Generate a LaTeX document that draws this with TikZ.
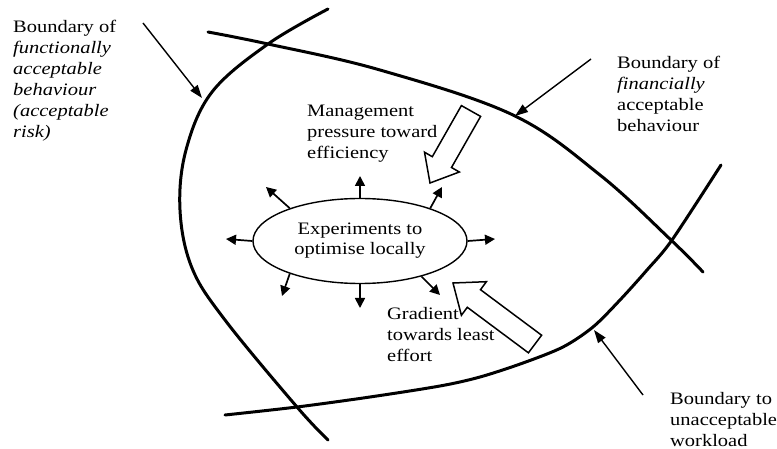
\documentclass[tikz,border=0pt]{standalone}
\usepackage{fontspec}
\setmainfont{Liberation Serif}[FakeStretch=1.17]
\usetikzlibrary{arrows.meta,shapes.geometric}

\begin{document}
\begin{tikzpicture}[x=1pt,y=-1pt,
  boundary/.style={line width=3pt, line cap=round},
  pointer/.style={line width=1.4pt, -{Triangle[length=13pt,width=9pt]}},
  probe/.style={line width=1.7pt, -{Triangle[length=10pt,width=10pt]}},
  push/.style={draw, line width=1.5pt, line join=miter, fill=white},
  label/.style={inner sep=0pt, anchor=north west, align=left,
                font=\fontsize{17.5}{21}\selectfont},
]
\useasboundingbox (0,0) rectangle (777,449);

% the three boundaries of the safe operating region
\draw[boundary] plot[smooth, tension=0.6] coordinates
  {(328,9) (268,44) (212,92) (186,150) (180,210) (192,268) (225,320) (297,407) (328,440)};
\draw[boundary] plot[smooth, tension=0.6] coordinates
  {(208,32) (268,44) (380,70) (513,115) (600,175) (671,240) (703,272)};
\draw[boundary] plot[smooth, tension=0.5] coordinates
  {(721,165) (672,240) (647,270) (620,300) (593,327) (563,347) (523,363)
   (480,377) (440,386) (370,397) (297,407) (225,415)};

% labels
\node[label] (func) at (13,20) {Boundary of\\\textit{functionally}\\\textit{acceptable}\\\textit{behaviour}\\\textit{(acceptable}\\\textit{risk)}};
\node[label] (fin) at (617,56) {Boundary of\\\textit{financially}\\acceptable\\behaviour};
\node[label] (work) at (670,392) {Boundary to\\unacceptable\\workload};
\node[label] (mgmt) at (307,105) {Management\\pressure toward\\efficiency};
\node[label] (grad) at (387,307) {Gradient\\towards least\\effort};

% pointers from the labels to their boundaries
\coordinate (funcTail) at (143,23);  \coordinate (funcHead) at (202,98);
\coordinate (finTail)  at (591,59);  \coordinate (finHead)  at (515,116);
\coordinate (workTail) at (643,395); \coordinate (workHead) at (594,330);
\draw[pointer] (funcTail) -- (funcHead);
\draw[pointer] (finTail) -- (finHead);
\draw[pointer] (workTail) -- (workHead);

% local experimentation
\node[ellipse, draw, line width=1.4pt, minimum width=214pt, minimum height=85pt,
      inner sep=0pt, align=center, font=\fontsize{17.5}{20}\selectfont]
      (exp) at (360,241) {Experiments to\\optimise locally};

\coordinate (pN)  at (360,176);
\coordinate (pS)  at (360,308);
\coordinate (pW)  at (226,239);
\coordinate (pE)  at (495,239);
\coordinate (pNE) at (442,187);
\coordinate (pNW) at (266,187);
\coordinate (pSW) at (282,296);
\coordinate (pSE) at (440,295);
\draw[probe] (exp.north) -- (pN);
\draw[probe] (exp.south) -- (pS);
\draw[probe] (exp.west) -- (pW);
\draw[probe] (exp.east) -- (pE);
\draw[probe] (exp.25) -- (pNE);
\draw[probe] (exp.155) -- (pNW);
\draw[probe] (exp.205) -- (pSW);
\draw[probe] (exp.330) -- (pSE);

% the two opposing pressures
\draw[push] (430,183) -- (424.5,152.2) -- (432.3,156.7) -- (461.4,105.6)
  -- (480.6,116.4) -- (451.5,167.5) -- (459.3,172.0) -- cycle;
\draw[push] (453,283) -- (486.4,281.7) -- (480.5,289.7) -- (541.6,335.2)
  -- (528.4,352.8) -- (467.3,307.3) -- (461.4,315.3) -- cycle;
\end{tikzpicture}
\end{document}
